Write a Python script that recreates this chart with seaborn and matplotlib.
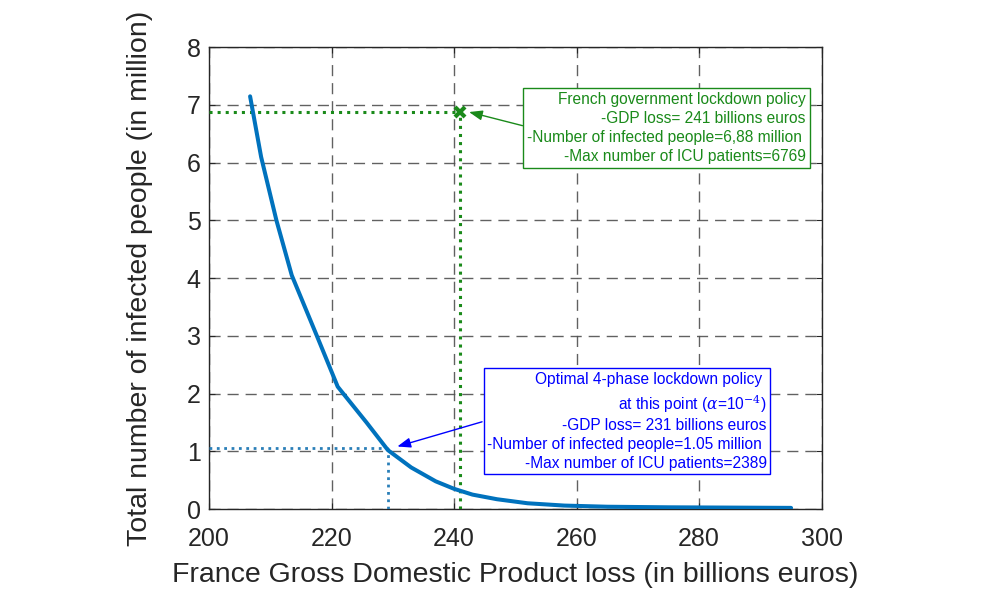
import matplotlib
matplotlib.use("Agg")
import matplotlib.pyplot as plt
import seaborn as sns
import pandas as pd

# Data
gdp_loss = [206.7, 208.5, 211.0, 213.5, 217.6, 221.0, 225.7, 229.2, 233.0, 237.0,
            240.0, 243.0, 247.0, 252.0, 258.0, 265.0, 275.0, 285.0, 295.0]
infected = [7.15, 6.10, 5.00, 4.05, 3.00, 2.12, 1.50, 1.02, 0.72, 0.48,
            0.35, 0.25, 0.17, 0.10, 0.06, 0.04, 0.03, 0.025, 0.02]

opt_point = (229.2, 1.05)
gov_point = (241.0, 6.88)

x_ticks = [200, 220, 240, 260, 280, 300]
y_ticks = [0, 1, 2, 3, 4, 5, 6, 7, 8]

gov_text = ("French government lockdown policy\n"
            "-GDP loss= 241 billions euros\n"
            "-Number of infected people=6,88 million \n"
            "-Max number of ICU patients=6769")
opt_text = ("Optimal 4-phase lockdown policy \n"
            r"at this point ($\alpha$=10$^{-4}$)" "\n"
            "-GDP loss= 231 billions euros\n"
            "-Number of infected people=1.05 million \n"
            "-Max number of ICU patients=2389")

sns.set_style("white")
plt.rcParams['font.family'] = ['Liberation Sans', 'DejaVu Sans']
plt.rcParams['mathtext.fontset'] = 'dejavuserif'

fig = plt.figure(figsize=(10.06, 6.06), dpi=100)
ax = fig.add_axes([0.2078, 0.160, 0.609, 0.762])

df = pd.DataFrame({"gdp": gdp_loss, "inf": infected})
sns.lineplot(data=df, x="gdp", y="inf", ax=ax, color="#0072BD", linewidth=2.9,
             estimator=None, sort=False, zorder=5)

green = "#1a8a1a"
# optimal point dotted guides
ax.plot([200, opt_point[0]], [opt_point[1], opt_point[1]], ls=":", color="#2a7fb8", lw=2.0, zorder=4)
ax.plot([opt_point[0], opt_point[0]], [0, opt_point[1]], ls=":", color="#2a7fb8", lw=2.0, zorder=4)
# government point dotted guides
ax.plot([200, gov_point[0]], [gov_point[1], gov_point[1]], ls=":", color=green, lw=2.2, zorder=4)
ax.plot([gov_point[0], gov_point[0]], [0, gov_point[1]], ls=":", color=green, lw=2.2, zorder=4)
ax.plot([gov_point[0]], [gov_point[1]], marker="x", color=green, ms=7, mew=3, zorder=6)

ax.set_xlim(200, 300)
ax.set_ylim(0, 8)
ax.set_xticks(x_ticks)
ax.set_yticks(y_ticks)
ax.tick_params(labelsize=18, colors="#262626", direction="in", length=4,
               top=True, right=True, bottom=True, left=True)
ax.tick_params(axis="x", pad=13)
ax.tick_params(axis="y", pad=6)
ax.grid(True, ls=(0, (8, 5)), color="#505050", lw=1.0, alpha=0.9)
for s in ax.spines.values():
    s.set_color("#262626")
    s.set_linewidth(1.0)
    s.set_visible(True)

ax.set_xlabel("France Gross Domestic Product loss (in billions euros)", fontsize=20.5, color="#262626", labelpad=8)
ax.set_ylabel("Total number of infected people (in million)", fontsize=20.5, color="#262626", labelpad=24)

# annotation boxes
ax.text(297.4, 6.60, gov_text, ha="right", va="center", multialignment="right",
        fontsize=11.2, color=green, linespacing=1.33, zorder=10,
        bbox=dict(boxstyle="square,pad=0.25", fc="white", ec=green, lw=1.0))
ax.annotate("", xy=(242.0, 6.89), xytext=(251.6, 6.63),
            arrowprops=dict(arrowstyle="-|>,head_length=0.8,head_width=0.3", color=green, lw=1.0), zorder=9)

ax.text(291.0, 1.52, opt_text, ha="right", va="center", multialignment="right",
        fontsize=11.2, color="blue", linespacing=1.3, zorder=10,
        bbox=dict(boxstyle="square,pad=0.25", fc="white", ec="blue", lw=1.0))
ax.annotate("", xy=(230.3, 1.07), xytext=(245.0, 1.525),
            arrowprops=dict(arrowstyle="-|>,head_length=0.8,head_width=0.3", color="blue", lw=1.0), zorder=9)

fig.savefig("out.png", dpi=100, facecolor="white")
